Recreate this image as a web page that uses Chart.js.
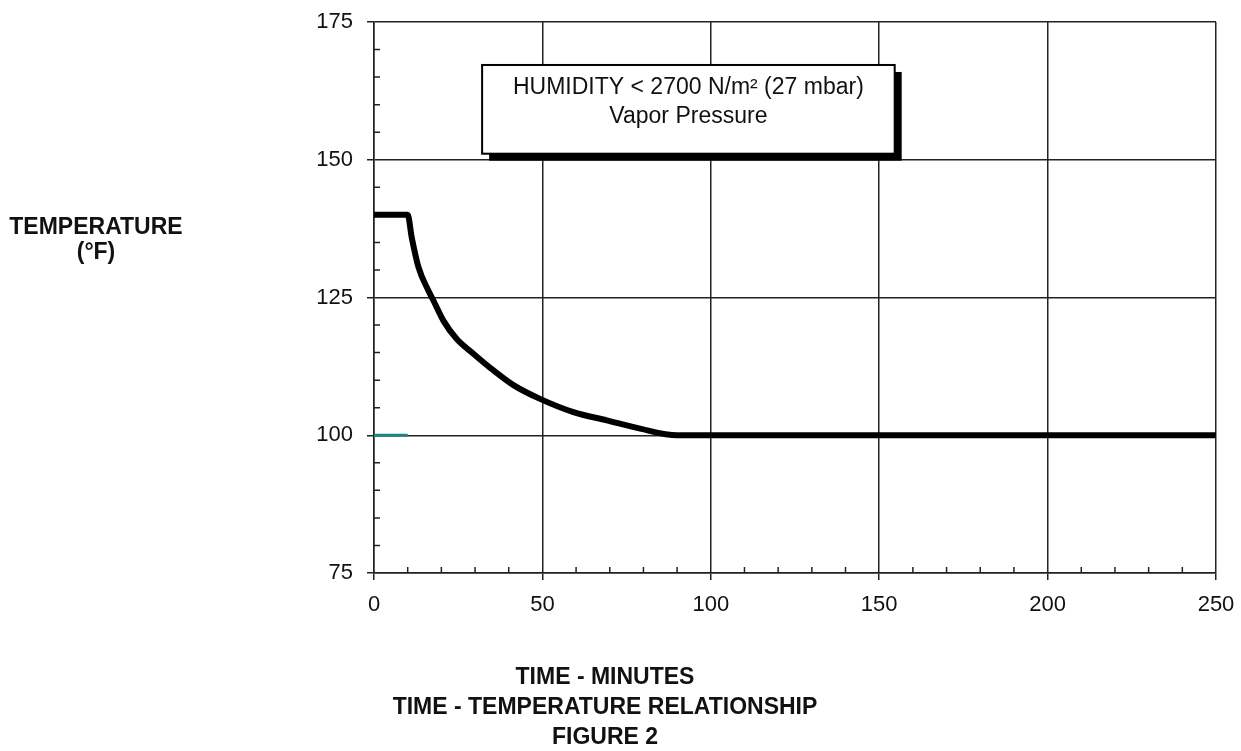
<!DOCTYPE html>
<html>
<head>
<meta charset="utf-8">
<script src="https://cdn.jsdelivr.net/npm/chart.js@4/dist/chart.umd.min.js"></script>
<style>
  html, body { margin: 0; padding: 0; background: #fff; }
  canvas { display: block; }
</style>
</head>
<body>
<canvas id="chart" width="1241" height="751"></canvas>
<script>
// values
const timeMinutes = [0, 10, 11.2, 13.2, 16.1, 17.6, 20.6, 24.5, 29.5, 35.4, 41.4, 49.3, 59.2, 69.1, 79, 90, 250];
const temperatureF = [140, 140, 135.9, 130.5, 126.3, 124.5, 120.8, 117.5, 114.8, 111.8, 109.1, 106.6, 104.2, 102.7, 101.2, 100, 100];
const refTime = [0, 10];
const refTemp = [100, 100];

const yTitle = ["TEMPERATURE", "(°F)"];
const xTitle = ["TIME - MINUTES", "TIME - TEMPERATURE RELATIONSHIP", "FIGURE 2"];
const noteLines = ["HUMIDITY < 2700 N/m² (27 mbar)", "Vapor Pressure"];

const FONT = "'Liberation Sans', Arial, sans-serif";
const GRID = "#222";

// minor ticks drawn inward, plus the note box and the outer titles
const extras = {
  id: "extras",
  beforeDatasetsDraw(chart) {
    const { ctx, chartArea: a, scales: { x, y } } = chart;
    ctx.save();
    ctx.strokeStyle = GRID;
    ctx.lineWidth = 1.5;
    ctx.beginPath();
    for (let v = 0; v <= 250; v += 10) {
      if (v % 50 === 0) continue;
      const px = x.getPixelForValue(v);
      ctx.moveTo(px, a.bottom);
      ctx.lineTo(px, a.bottom - 6);
    }
    for (let v = 75; v <= 175; v += 5) {
      if (v % 25 === 0) continue;
      const py = y.getPixelForValue(v);
      ctx.moveTo(a.left, py);
      ctx.lineTo(a.left + 6, py);
    }
    ctx.stroke();

    // note box with drop shadow
    const bx0 = x.getPixelForValue(32.1), bx1 = x.getPixelForValue(154.6);
    const by0 = y.getPixelForValue(167.2), by1 = y.getPixelForValue(151.1);
    ctx.fillStyle = "#000";
    ctx.fillRect(bx0 + 7, by0 + 7, bx1 - bx0, by1 - by0);
    ctx.fillStyle = "#fff";
    ctx.fillRect(bx0, by0, bx1 - bx0, by1 - by0);
    ctx.lineWidth = 2;
    ctx.strokeStyle = "#000";
    ctx.strokeRect(bx0, by0, bx1 - bx0, by1 - by0);
    ctx.fillStyle = "#111";
    ctx.font = "23px " + FONT;
    ctx.textAlign = "center";
    ctx.textBaseline = "alphabetic";
    const cx = (bx0 + bx1) / 2;
    ctx.fillText(noteLines[0], cx, by0 + 29);
    ctx.fillText(noteLines[1], cx, by0 + 58);
    ctx.restore();
  },
  afterDraw(chart) {
    const { ctx } = chart;
    ctx.save();
    ctx.fillStyle = "#111";
    ctx.textAlign = "center";
    ctx.textBaseline = "alphabetic";
    ctx.font = "bold 23px " + FONT;
    ctx.fillText(yTitle[0], 96, 234);
    ctx.fillText(yTitle[1], 96, 259);
    ctx.fillText(xTitle[0], 605, 684);
    ctx.fillText(xTitle[1], 605, 714);
    ctx.fillText(xTitle[2], 605, 744);
    ctx.restore();
  }
};

new Chart(document.getElementById("chart"), {
  type: "line",
  data: {
    datasets: [
      {
        label: "Temperature",
        data: timeMinutes.map((t, i) => ({ x: t, y: temperatureF[i] })),
        borderColor: "#000",
        borderWidth: 6,
        borderJoinStyle: "round",
        pointRadius: 0,
        cubicInterpolationMode: "monotone",
        fill: false
      },
      {
        label: "Reference",
        data: refTime.map((t, i) => ({ x: t, y: refTemp[i] })),
        borderColor: "#1a8585",
        borderWidth: 3,
        pointRadius: 0,
        fill: false
      }
    ]
  },
  options: {
    responsive: false,
    animation: false,
    layout: { padding: { top: 22, right: 25, left: 0, bottom: 0 } },
    plugins: {
      legend: { display: false },
      tooltip: { enabled: false }
    },
    scales: {
      x: {
        type: "linear",
        min: 0,
        max: 250,
        afterFit: (s) => { s.height = 178; s.paddingLeft = 0; s.paddingRight = 0; },
        ticks: {
          stepSize: 50,
          color: "#111",
          padding: 12,
          font: { family: FONT, size: 22 }
        },
        grid: { color: GRID, lineWidth: 1.5, tickLength: 7 },
        border: { color: GRID, width: 1.5 }
      },
      y: {
        min: 75,
        max: 175,
        afterFit: (s) => { s.width = 374; s.paddingTop = 0; s.paddingBottom = 0; },
        ticks: {
          stepSize: 25,
          color: "#111",
          padding: 14,
          font: { family: FONT, size: 22 }
        },
        grid: { color: GRID, lineWidth: 1.5, tickLength: 7 },
        border: { color: GRID, width: 1.5 }
      }
    }
  },
  plugins: [extras]
});
</script>
</body>
</html>
